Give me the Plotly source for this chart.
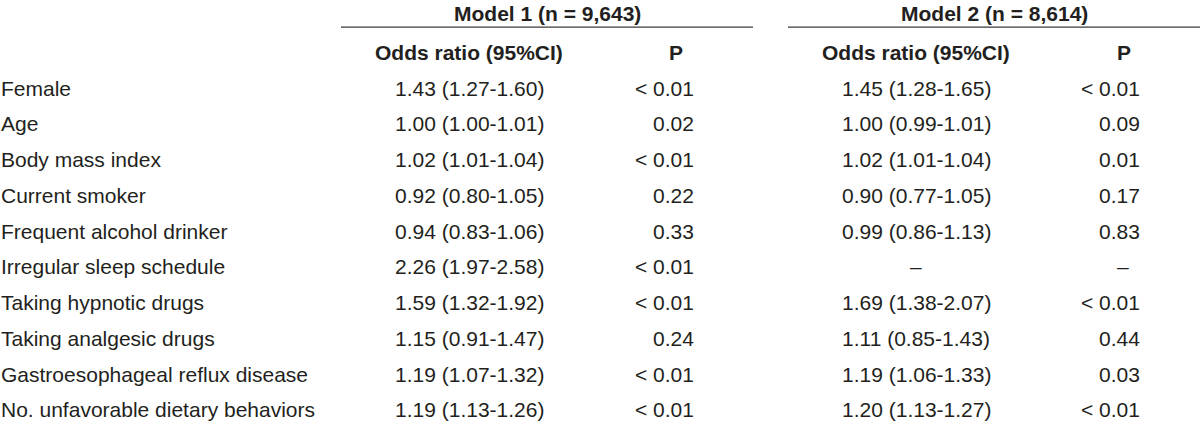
import plotly.graph_objects as go

# ---- data ----
variables = [
    "Female", "Age", "Body mass index", "Current smoker", "Frequent alcohol drinker",
    "Irregular sleep schedule", "Taking hypnotic drugs", "Taking analgesic drugs",
    "Gastroesophageal reflux disease", "No. unfavorable dietary behaviors",
]
m1_or = ["1.43 (1.27-1.60)", "1.00 (1.00-1.01)", "1.02 (1.01-1.04)", "0.92 (0.80-1.05)",
         "0.94 (0.83-1.06)", "2.26 (1.97-2.58)", "1.59 (1.32-1.92)", "1.15 (0.91-1.47)",
         "1.19 (1.07-1.32)", "1.19 (1.13-1.26)"]
m1_p = ["< 0.01", "0.02", "< 0.01", "0.22", "0.33", "< 0.01", "< 0.01", "0.24", "< 0.01", "< 0.01"]
m2_or = ["1.45 (1.28-1.65)", "1.00 (0.99-1.01)", "1.02 (1.01-1.04)", "0.90 (0.77-1.05)",
         "0.99 (0.86-1.13)", "–", "1.69 (1.38-2.07)", "1.11 (0.85-1.43)",
         "1.19 (1.06-1.33)", "1.20 (1.13-1.27)"]
m2_p = ["< 0.01", "0.09", "0.01", "0.17", "0.83", "–", "< 0.01", "0.44", "0.03", "< 0.01"]
model_titles = ["Model 1 (n = 9,643)", "Model 2 (n = 8,614)"]
col_headers = ["Odds ratio (95%CI)", "P"]

FONT = "Liberation Sans, Arial, sans-serif"
COLOR = "#231f20"
SIZE = 21

rows = list(range(len(variables)))
fig = go.Figure()
ann = []

def add_text(x, y, text, anchor, bold=False):
    ann.append(dict(
        x=x, y=y, xref="x", yref="y", text=f"<b>{text}</b>" if bold else text,
        showarrow=False, xanchor=anchor, yanchor="middle", borderpad=0,
        font=dict(family=FONT, size=SIZE, color=COLOR),
    ))

for r in rows:
    add_text(0, r, variables[r], "left")
    add_text(469, r, m1_or[r], "center")
    add_text(695, r, m1_p[r], "right")
    add_text(916, r, m2_or[r], "center")
    if m2_p[r] == "–":
        add_text(1123, r, m2_p[r], "center")
    else:
        add_text(1141, r, m2_p[r], "right")

for x, h in zip([469, 676, 916, 1124], col_headers * 2):
    add_text(x, -1, h, "center", bold=True)
for x, t in zip([547, 994], model_titles):
    add_text(x, -2.07, t, "center", bold=True)

# rules under model titles
for x0, x1 in [(341, 753), (788, 1200)]:
    fig.add_trace(go.Scatter(x=[x0, x1], y=[-1.70, -1.70], mode="lines",
                             line=dict(color="#3a3a3a", width=1.2),
                             hoverinfo="skip", showlegend=False))

fig.update_layout(
    width=1200, height=425, margin=dict(l=0, r=0, t=0, b=0),
    paper_bgcolor="white", plot_bgcolor="white",
    annotations=ann,
    xaxis=dict(range=[0, 1200], visible=False, fixedrange=True),
    yaxis=dict(range=[9.42, -2.46], visible=False, fixedrange=True),
)
fig.write_html("out.html", config={"displayModeBar": False},
               post_script="document.body.style.margin='0';document.body.style.overflow='hidden';")
